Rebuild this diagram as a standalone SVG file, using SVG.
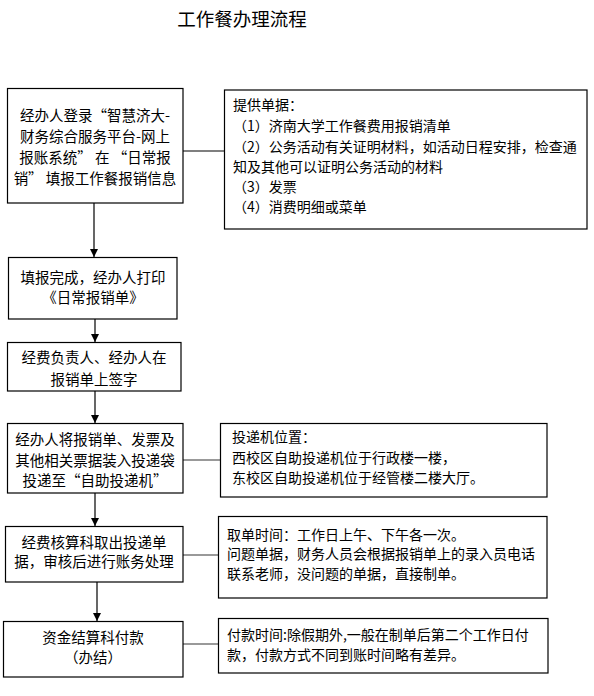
<svg xmlns="http://www.w3.org/2000/svg" width="594" height="696" viewBox="0 0 594 696">
<style>
.box{fill:#fff;stroke:#000;stroke-width:1.2}
.t{font-family:"Noto Sans CJK SC","Liberation Sans",sans-serif;font-size:14.5px;fill:#000;text-anchor:middle}
.n{font-family:"Noto Sans CJK SC","Liberation Sans",sans-serif;font-size:14px;fill:#000}
.c{stroke:#000;stroke-width:1.2;fill:none}
.g{stroke:#777;stroke-width:1.6;fill:none}
</style>
<defs>
<marker id="ah" viewBox="0 0 8 8" refX="8" refY="4" markerWidth="8" markerHeight="8" markerUnits="userSpaceOnUse" orient="auto">
<path d="M0,0 L8,4 L0,8 Z" fill="#000"/>
</marker>
</defs>
<rect width="594" height="696" fill="#fff"/>
<text x="242" y="26" font-family="'Noto Sans CJK SC','Liberation Sans',sans-serif" font-size="18.5" text-anchor="middle">工作餐办理流程</text>

<g id="connectors">
<line class="c" x1="183" y1="151" x2="224" y2="151"/>
<line class="c" x1="94" y1="203" x2="94" y2="257" marker-end="url(#ah)"/>
<line class="c" x1="95" y1="319" x2="95" y2="342" marker-end="url(#ah)"/>
<line class="c" x1="95" y1="391" x2="95" y2="423" marker-end="url(#ah)"/>
<line class="g" x1="183" y1="460" x2="220" y2="460"/>
<line class="c" x1="95" y1="493" x2="95" y2="526" marker-end="url(#ah)"/>
<line class="g" x1="183" y1="555" x2="218" y2="555"/>
<line class="c" x1="97" y1="582" x2="97" y2="621" marker-end="url(#ah)"/>
<line class="g" x1="183" y1="644" x2="218" y2="644"/>
</g>

<g id="n1">
<rect class="box" x="7.5" y="88.5" width="175.5" height="114.5"/>
<text class="t" x="95" y="121">经办人登录“智慧济大-</text>
<text class="t" x="95" y="142">财务综合服务平台-网上</text>
<text class="t" x="95" y="163">报账系统” 在 “日常报</text>
<text class="t" x="95" y="184">销” 填报工作餐报销信息</text>
</g>

<g id="n2">
<rect class="box" x="224.5" y="90" width="362.5" height="139"/>
<text class="n" x="233" y="110">提供单据：</text>
<text class="n" x="233" y="131">（1）济南大学工作餐费用报销清单</text>
<text class="n" x="233" y="151.5">（2）公务活动有关证明材料，如活动日程安排，检查通</text>
<text class="n" x="233" y="171.5">知及其他可以证明公务活动的材料</text>
<text class="n" x="233" y="192">（3）发票</text>
<text class="n" x="233" y="212">（4）消费明细或菜单</text>
</g>

<g id="n3">
<rect class="box" x="8.5" y="257.5" width="168.5" height="61.5"/>
<text class="t" x="93" y="283">填报完成，经办人打印</text>
<text class="t" x="93" y="303">《日常报销单》</text>
</g>

<g id="n4">
<rect class="box" x="7.5" y="342.5" width="173.5" height="48.5"/>
<text class="t" x="94" y="363">经费负责人、经办人在</text>
<text class="t" x="94" y="385">报销单上签字</text>
</g>

<g id="n5">
<rect class="box" x="7.5" y="423.5" width="175.5" height="69.5"/>
<text class="t" x="95" y="445">经办人将报销单、发票及</text>
<text class="t" x="95" y="466">其他相关票据装入投递袋</text>
<text class="t" x="95" y="486">投递至“自助投递机”</text>
</g>

<g id="n6">
<rect class="box" x="220.5" y="423.5" width="326.5" height="73.5"/>
<text class="n" x="232" y="442">投递机位置：</text>
<text class="n" x="232" y="463">西校区自助投递机位于行政楼一楼，</text>
<text class="n" x="232" y="483">东校区自助投递机位于经管楼二楼大厅。</text>
</g>

<g id="n7">
<rect class="box" x="5.5" y="526.5" width="177.5" height="55.5"/>
<text class="t" x="94" y="548">经费核算科取出投递单</text>
<text class="t" x="94" y="567">据，审核后进行账务处理</text>
</g>

<g id="n8">
<rect class="box" x="218.5" y="516.5" width="328.5" height="81.5"/>
<text class="n" x="227" y="540">取单时间：工作日上午、下午各一次。</text>
<text class="n" x="227" y="559">问题单据，财务人员会根据报销单上的录入员电话</text>
<text class="n" x="227" y="579">联系老师，没问题的单据，直接制单。</text>
</g>

<g id="n9">
<rect class="box" x="3.5" y="621.5" width="179.5" height="55.5"/>
<text class="t" x="93" y="643">资金结算科付款</text>
<text class="t" x="93" y="663">（办结）</text>
</g>

<g id="n10">
<rect class="box" x="218.5" y="618.5" width="329.5" height="54.5"/>
<text class="n" x="227" y="640">付款时间:除假期外,一般在制单后第二个工作日付</text>
<text class="n" x="227" y="660">款，付款方式不同到账时间略有差异。</text>
</g>
</svg>
